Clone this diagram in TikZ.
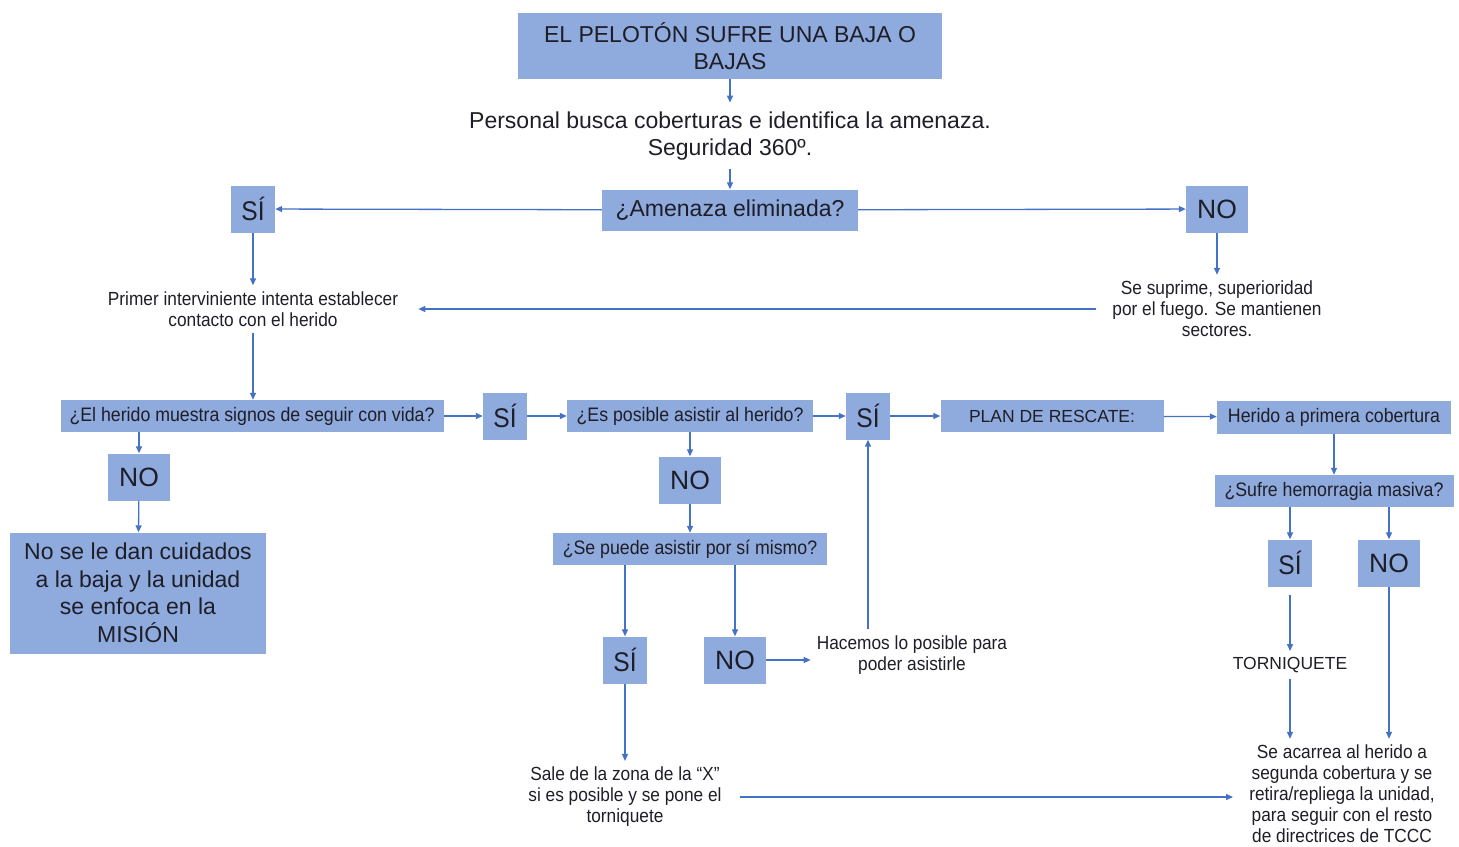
\documentclass[tikz,border=0pt]{standalone}
\usepackage{fontspec}
\setmainfont{Liberation Sans}
\newfontfamily\narrowfont[FakeStretch=0.91]{Liberation Sans}
\usetikzlibrary{arrows.meta,positioning,calc}
\definecolor{boxfill}{HTML}{8FAADC}
\definecolor{arrowblue}{HTML}{4472C4}
\definecolor{ink}{HTML}{1E1E28}
\tikzset{
  bigbox/.style={fill=boxfill,text=ink,inner sep=0pt,align=center,
                 font=\fontsize{23}{27.5}\selectfont},
  askbox/.style={fill=boxfill,text=ink,inner sep=0pt,minimum height=32pt,
                 align=center,font=\narrowfont\fontsize{19.5}{22}\selectfont},
  yesbox/.style={fill=boxfill,text=ink,inner sep=0pt,minimum width=44pt,
                 minimum height=47pt,font=\narrowfont\fontsize{27}{30}\selectfont},
  nobox/.style={fill=boxfill,text=ink,inner sep=0pt,minimum width=62pt,
                minimum height=47pt,font=\fontsize{26.5}{30}\selectfont},
  note/.style={text=ink,align=center,inner sep=6pt,
               font=\narrowfont\fontsize{19}{21}\selectfont},
  flowarr/.style={-{Triangle[length=7pt,width=6pt]},line width=1.3pt,draw=arrowblue}
}
\begin{document}
\begin{tikzpicture}[x=1pt,y=-1pt]
  \useasboundingbox (0,0) rectangle (1459,846);
  % top of the flow
  \node[bigbox,minimum width=424pt,minimum height=66pt] (baja) at (730,46) {EL PELOTÓN SUFRE UNA BAJA O\\BAJAS};
  \node[note,font=\fontsize{23}{27}\selectfont,inner sep=9pt] (cober) at (730,136) {Personal busca coberturas e identifica la amenaza.\\Seguridad 360º.};
  \node[bigbox,minimum width=256pt,minimum height=41pt] (amen) at (730,210) {¿Amenaza eliminada?};
  \node[yesbox] (si1) at (253,209) {SÍ};
  \node[nobox] (no1) at (1217,209) {NO};
  \node[note] (primer) at (253,309) {Primer interviniente intenta establecer\\contacto con el herido};
  \node[note] (supr) at (1217,309) {Se suprime, superioridad\\por el fuego. Se mantienen\\sectores.};
  % main row
  \node[askbox,minimum width=383pt] (vida) at (252,416) {¿El herido muestra signos de seguir con vida?};
  \node[yesbox] (si2) at (505,416) {SÍ};
  \node[askbox,minimum width=246pt] (asist) at (690,416) {¿Es posible asistir al herido?};
  \node[yesbox] (si3) at (868,416) {SÍ};
  \node[askbox,minimum width=223pt,font=\fontsize{17.5}{21}\selectfont] (plan) at (1052,416) {PLAN DE RESCATE:};
  \node[askbox,minimum width=234pt,minimum height=33pt] (cob1) at (1334,417) {Herido a primera cobertura};
  % right branch
  \node[askbox,minimum width=239pt] (hemo) at (1334,491) {¿Sufre hemorragia masiva?};
  \node[yesbox] (si5) at (1290,563) {SÍ};
  \node[nobox] (no5) at (1389,563) {NO};
  \node[note,font=\fontsize{17.5}{21}\selectfont] (torn) at (1290,665) {TORNIQUETE};
  \node[note] (cob2) at (1342,794) {Se acarrea al herido a\\segunda cobertura y se\\retira/repliega la unidad,\\para seguir con el resto\\de directrices de TCCC};
  % left branch
  \node[nobox] (no2) at (139,477) {NO};
  \node[bigbox,minimum width=256pt,minimum height=121pt] (mision) at (138,593) {No se le dan cuidados\\a la baja y la unidad\\se enfoca en la\\MISIÓN};
  % middle branch
  \node[nobox] (no3) at (690,480) {NO};
  \node[askbox,minimum width=274pt] (mismo) at (690,549) {¿Se puede asistir por sí mismo?};
  \node[yesbox] (si4) at (625,660) {SÍ};
  \node[nobox] (no4) at (735,660) {NO};
  \node[note] (posib) at (912,655) {Hacemos lo posible para\\poder asistirle};
  \node[note] (sale) at (625,797) {Sale de la zona de la “X”\\si es posible y se pone el\\torniquete};
  % connectors
  \draw[flowarr] (baja) -- (cober);
  \draw[flowarr] (cober) -- (amen);
  \draw[flowarr] (amen) -- (si1);
  \draw[flowarr] (amen) -- (no1);
  \draw[flowarr] (si1) -- (primer);
  \draw[flowarr] (no1) -- (supr);
  \draw[flowarr,shorten <=10pt,shorten >=14pt] (supr) -- (primer);
  \draw[flowarr] (primer) -- (primer |- vida.north);
  \draw[flowarr] (vida) -- (si2);
  \draw[flowarr] (si2) -- (asist);
  \draw[flowarr] (asist) -- (si3);
  \draw[flowarr] (si3) -- (plan);
  \draw[flowarr] (plan) -- (cob1);
  \draw[flowarr] (cob1) -- (hemo);
  \draw[flowarr] (hemo.south -| si5) -- (si5);
  \draw[flowarr] (hemo.south -| no5) -- (no5);
  \draw[flowarr,shorten <=8pt] (si5) -- (torn);
  \draw[flowarr] (torn) -- (torn |- cob2.north);
  \draw[flowarr] (no5) -- (no5 |- cob2.north);
  \draw[flowarr] (vida.south -| no2) -- (no2);
  \draw[flowarr] (no2) -- (mision);
  \draw[flowarr] (asist) -- (no3);
  \draw[flowarr] (no3) -- (mismo);
  \draw[flowarr] (mismo.south -| si4) -- (si4);
  \draw[flowarr] (mismo.south -| no4) -- (no4);
  \draw[flowarr] (no4.east) -- (no4.east -| posib.west);
  \draw[flowarr] (posib.north -| si3) -- (si3);
  \draw[flowarr] (si4) -- (sale);
  \draw[flowarr,shorten <=12pt,shorten >=10pt] (sale) -- (cob2.west |- sale.east);
\end{tikzpicture}
\end{document}
